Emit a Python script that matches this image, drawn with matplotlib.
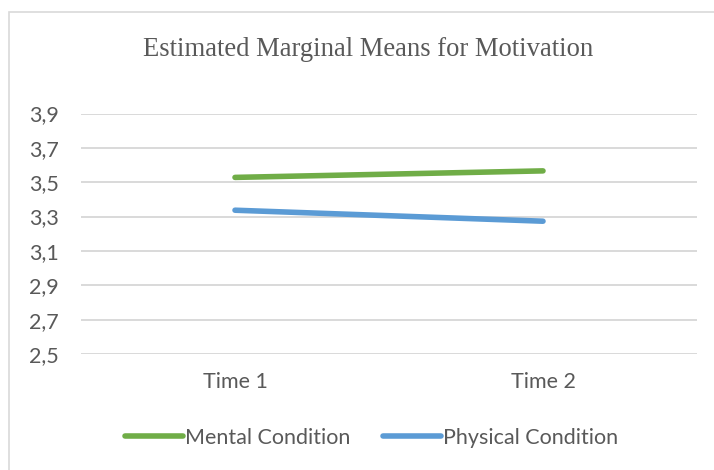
import matplotlib
matplotlib.use("Agg")
import matplotlib.pyplot as plt
from matplotlib.patches import Rectangle

# estimated marginal means, two conditions over two time points
times = ["Time 1", "Time 2"]
mental = [3.528, 3.566]
physical = [3.337, 3.273]
y_ticks = [2.5, 2.7, 2.9, 3.1, 3.3, 3.5, 3.7, 3.9]
y_labels = ["2,5", "2,7", "2,9", "3,1", "3,3", "3,5", "3,7", "3,9"]

W, H = 714, 470
text_col = "#595959"
grid_col = "#d9d9d9"
sans = ["Lato", "DejaVu Sans"]

fig = plt.figure(figsize=(W / 100, H / 100), dpi=100)
fig.patch.set_facecolor("white")

# outer chart frame (runs off the right and bottom edges)
fig.patches.append(Rectangle((9 / W, -0.1), 1.2, 1 - 12 / H + 0.1,
                             transform=fig.transFigure, fill=False,
                             edgecolor=grid_col, linewidth=1.2))

ax = fig.add_axes([81 / W, 1 - 354 / H, (697 - 81) / W, (354 - 113.5) / H])
x = range(len(times))
ax.plot(x, mental, color="#70ad47", lw=4, solid_capstyle="round",
        label="Mental Condition", zorder=3)
ax.plot(x, physical, color="#5b9bd5", lw=4, solid_capstyle="round",
        label="Physical Condition", zorder=3)

ax.set_xlim(-0.5, 1.5)
ax.set_ylim(2.5, 3.9)
ax.set_yticks(y_ticks)
ax.set_yticklabels(y_labels)
ax.set_xticks(list(x))
ax.set_xticklabels(times)
ax.tick_params(axis="both", length=0, labelsize=15.5, labelcolor=text_col)
ax.tick_params(axis="y", pad=16)
ax.tick_params(axis="x", pad=13)
for lab in ax.get_xticklabels() + ax.get_yticklabels():
    lab.set_family(sans)
ax.grid(axis="y", color=grid_col, lw=1.4)
ax.set_axisbelow(True)
for s in ax.spines.values():
    s.set_visible(False)

fig.text(368 / W, 1 - 50 / H, "Estimated Marginal Means for Motivation",
         ha="center", va="center", fontsize=19.2, color=text_col,
         family=["Liberation Serif", "DejaVu Serif"])

fig.legend(loc="center", bbox_to_anchor=(371.5 / W, 1 - 438 / H), ncol=2,
           frameon=False, handlelength=2.7, handletextpad=0.1,
           columnspacing=1.5, prop={"family": sans, "size": 15.5},
           labelcolor=text_col)

fig.savefig("out.png", dpi=100)
